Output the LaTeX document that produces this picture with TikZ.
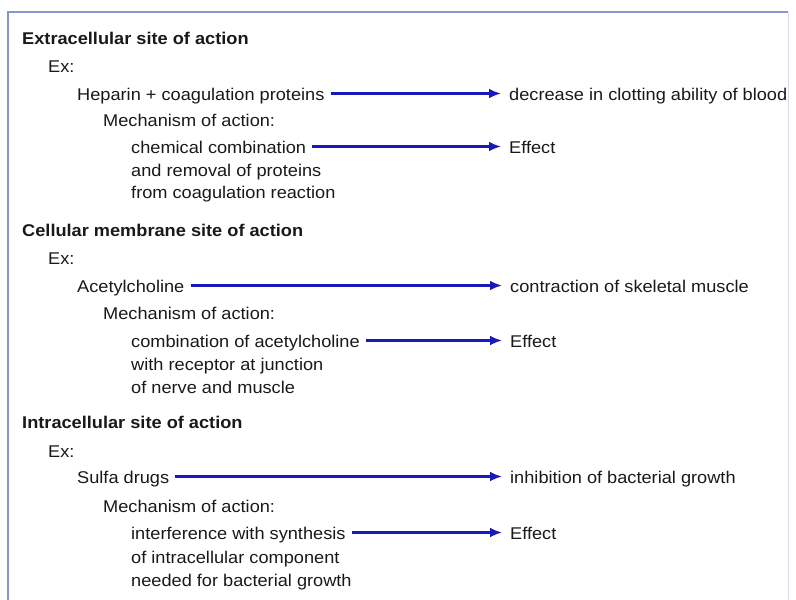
\documentclass[tikz,border=0pt]{standalone}
\usepackage{fontspec}
\setmainfont{Liberation Sans}[FakeStretch=1.07]
\usetikzlibrary{arrows.meta}

\definecolor{arrowblue}{RGB}{25,25,185}
\definecolor{framecol}{RGB}{135,150,215}
\definecolor{textcol}{RGB}{25,25,25}

\begin{document}
\fontsize{17}{23}\selectfont
\begin{tikzpicture}[x=1pt,y=-1pt]

          \useasboundingbox (0,0) rectangle (796,600);
          \draw[framecol,line width=1.5pt] (8,620) -- (8,12) -- (788,12);
          \draw[framecol!35,line width=1pt] (788,12) -- (788,620);

          \begin{scope}[every node/.style={anchor=base west,inner sep=0pt,text=textcol,
                                           text height=15pt,text depth=2pt}]
            % extracellular
            \node[font=\bfseries] (site1) at (22,44)  {Extracellular site of action};
            \node (ex1)   at (48,72)   {Ex:};
            \node (drug1) at (77,100)  {Heparin + coagulation proteins};
            \node (res1)  at (509,100) {decrease in clotting ability of blood};
            \node (mech1) at (103,126) {Mechanism of action:};
            \node (how1)  at (131,153) {chemical combination};
            \node (eff1)  at (509,153) {Effect};
            \node (how1b) at (131,176) {and removal of proteins};
            \node (how1c) at (131,198) {from coagulation reaction};

            % cellular membrane
            \node[font=\bfseries] (site2) at (22,236) {Cellular membrane site of action};
            \node (ex2)   at (48,264)  {Ex:};
            \node (drug2) at (77,292)  {Acetylcholine};
            \node (res2)  at (510,292) {contraction of skeletal muscle};
            \node (mech2) at (103,319) {Mechanism of action:};
            \node (how2)  at (131,347) {combination of acetylcholine};
            \node (eff2)  at (510,347) {Effect};
            \node (how2b) at (131,370) {with receptor at junction};
            \node (how2c) at (131,393) {of nerve and muscle};

            % intracellular
            \node[font=\bfseries] (site3) at (22,428) {Intracellular site of action};
            \node (ex3)   at (48,457)  {Ex:};
            \node (drug3) at (77,483)  {Sulfa drugs};
            \node (res3)  at (510,483) {inhibition of bacterial growth};
            \node (mech3) at (103,512) {Mechanism of action:};
            \node (how3)  at (131,539) {interference with synthesis};
            \node (eff3)  at (510,539) {Effect};
            \node (how3b) at (131,563) {of intracellular component};
            \node (how3c) at (131,586) {needed for bacterial growth};
          \end{scope}

          \begin{scope}[every edge/.style={draw=arrowblue,line width=2.8pt,
                                           -{Latex[length=12pt,width=10pt]},
                                           shorten <=6pt,shorten >=8pt}]
            \path (drug1) edge (res1);
            \path (how1)  edge (eff1);
            \path (drug2) edge (res2);
            \path (how2)  edge (eff2);
            \path (drug3) edge (res3);
            \path (how3)  edge (eff3);
          \end{scope}

        \end{tikzpicture}
\end{document}
